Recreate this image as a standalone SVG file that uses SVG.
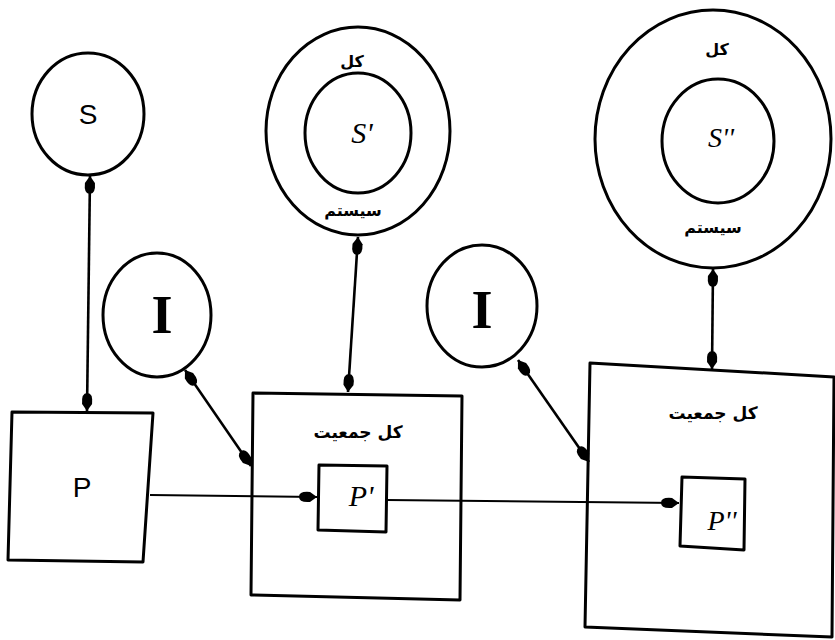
<svg xmlns="http://www.w3.org/2000/svg" width="835" height="640" viewBox="0 0 835 640">
<style>
.shape{fill:none;stroke:#000;stroke-width:3;stroke-linejoin:round}
.conn{fill:none;stroke:#000;stroke-width:2.6}
.thin{fill:none;stroke:#000;stroke-width:2}
.lat{font-family:"Liberation Sans",sans-serif;fill:#000;text-anchor:middle}
.it{font-family:"Liberation Serif",serif;font-style:italic;fill:#000;text-anchor:middle}
.fa{font-family:"DejaVu Sans",sans-serif;font-weight:bold;fill:#000;text-anchor:middle}
.big{font-family:"Liberation Serif",serif;font-weight:bold;fill:#000;text-anchor:middle}
</style>
<defs>
<marker id="blob" markerUnits="userSpaceOnUse" markerWidth="26" markerHeight="16" viewBox="-20 -8 22 16" refX="0" refY="0" orient="auto-start-reverse">
<path d="M0,0 L-7,-5 Q-18,-6 -18,0 Q-18,6 -7,5 Z" fill="#000"/>
</marker>
</defs>
<g id="connectors">
<line class="conn" x1="90" y1="176" x2="87" y2="411" marker-start="url(#blob)" marker-end="url(#blob)"/>
<line class="thin" x1="150" y1="495" x2="317" y2="497" marker-end="url(#blob)"/>
<line class="conn" x1="185" y1="370" x2="251" y2="466" marker-start="url(#blob)" marker-end="url(#blob)"/>
<line class="conn" x1="358" y1="237" x2="348" y2="392" marker-start="url(#blob)" marker-end="url(#blob)"/>
<line class="thin" x1="387" y1="500" x2="679" y2="503" marker-end="url(#blob)"/>
<line class="conn" x1="518" y1="360" x2="589" y2="462" marker-start="url(#blob)" marker-end="url(#blob)"/>
<line class="conn" x1="713" y1="269" x2="712" y2="369" marker-start="url(#blob)" marker-end="url(#blob)"/>
</g>
<g id="node-S">
<ellipse class="shape" cx="88" cy="114" rx="56" ry="61"/>
<text class="lat" x="88" y="124" font-size="28">S</text>
</g>
<g id="node-P">
<path class="shape" d="M12,412 L153,413 L143,562 L8,560 Z"/>
<text class="lat" x="82" y="497" font-size="28">P</text>
</g>
<g id="node-I1">
<ellipse class="shape" cx="157" cy="315" rx="54" ry="62"/>
<text class="big" x="162" y="333" font-size="54">I</text>
</g>
<g id="node-S1">
<ellipse class="shape" cx="358" cy="131" rx="92" ry="104"/>
<ellipse class="shape" cx="358" cy="133" rx="53" ry="60"/>
<text class="fa" x="352" y="67" font-size="16">کل</text>
<text class="it" x="362" y="143" font-size="30">S'</text>
<text class="fa" x="353" y="216" font-size="16">سیستم</text>
</g>
<g id="node-box2">
<path class="shape" d="M253,393 L462,396 L460,600 L251,595 Z"/>
<text class="fa" x="358" y="438" font-size="17">کل جمعیت</text>
</g>
<g id="node-P1">
<path class="shape" d="M319,465 L387,466 L386,532 L318,530 Z"/>
<text class="it" x="361" y="506" font-size="30">P'</text>
</g>
<g id="node-I2">
<ellipse class="shape" cx="482" cy="306" rx="55" ry="61"/>
<text class="big" x="482" y="328" font-size="54">I</text>
</g>
<g id="node-S2">
<ellipse class="shape" cx="713" cy="139" rx="118" ry="129"/>
<ellipse class="shape" cx="718" cy="141" rx="56" ry="62"/>
<text class="fa" x="717" y="55" font-size="16">کل</text>
<text class="it" x="721" y="147" font-size="28">S''</text>
<text class="fa" x="713" y="233" font-size="16">سیستم</text>
</g>
<g id="node-box3">
<path class="shape" d="M590,363 L834,377 L832,637 L585,627 Z"/>
<text class="fa" x="713" y="419" font-size="17">کل جمعیت</text>
</g>
<g id="node-P2">
<path class="shape" d="M682,477 L745,479 L744,550 L680,546 Z"/>
<text class="it" x="722" y="530" font-size="28">P''</text>
</g>
</svg>
